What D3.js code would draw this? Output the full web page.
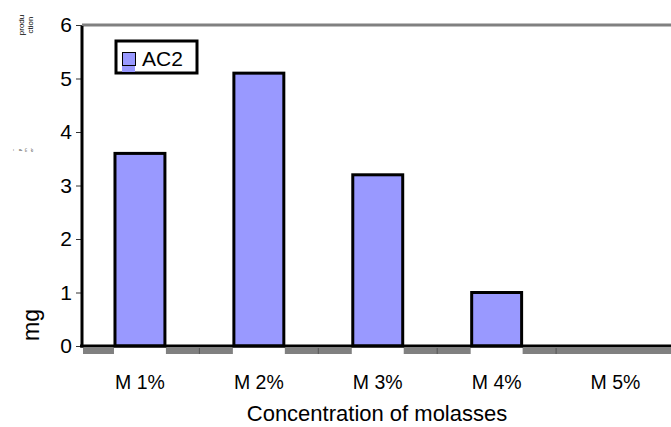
<!DOCTYPE html>
<html>
<head>
<meta charset="utf-8">
<script src="https://cdn.jsdelivr.net/npm/d3@7"></script>
<style>
  body { margin: 0; background: #fff; }
  text { font-family: "Liberation Sans", Arial, sans-serif; fill: #000; }
</style>
</head>
<body>
<svg id="chart" width="671" height="427"></svg>
<script>
// data
const categories = ['M 1%', 'M 2%', 'M 3%', 'M 4%', 'M 5%'];
const ac2 = [3.6, 5.1, 3.2, 1.0, 0];
const yTicks = [0, 1, 2, 3, 4, 5, 6];
const seriesName = 'AC2';

const BAR_FILL = '#9999ff';
const svg = d3.select('#chart');

const x = d3.scaleBand().domain(categories).range([80.5, 675]);
const y = d3.scaleLinear().domain([0, 6]).range([346, 25]);
const barW = x.bandwidth() * 0.42;

// top frame line (gray)
svg.append('line')
    .attr('x1', 82).attr('x2', 671)
    .attr('y1', y(6)).attr('y2', y(6))
    .attr('stroke', '#808080').attr('stroke-width', 3);

// gray floor strip below the axis, broken under bars
svg.append('rect')
    .attr('x', 83).attr('y', 348)
    .attr('width', 671 - 83).attr('height', 6)
    .attr('fill', '#808080');
svg.selectAll('rect.gap')
    .data(categories.filter((c, i) => ac2[i] > 0))
    .join('rect')
    .attr('class', 'gap')
    .attr('x', d => x(d) + x.bandwidth() / 2 - barW / 2 - 1)
    .attr('y', 348)
    .attr('width', barW + 2)
    .attr('height', 6)
    .attr('fill', '#fff');
svg.selectAll('line.sep')
    .data(categories.slice(1))
    .join('line')
    .attr('class', 'sep')
    .attr('x1', d => x(d)).attr('x2', d => x(d))
    .attr('y1', 348).attr('y2', 354)
    .attr('stroke', '#555').attr('stroke-width', 1);

// bars
svg.selectAll('rect.bar')
    .data(categories)
    .join('rect')
    .attr('class', 'bar')
    .attr('x', d => x(d) + x.bandwidth() / 2 - barW / 2)
    .attr('y', (d, i) => y(ac2[i]))
    .attr('width', barW)
    .attr('height', (d, i) => y(0) - y(ac2[i]))
    .attr('fill', BAR_FILL)
    .attr('stroke', '#000')
    .attr('stroke-width', 3)
    .style('display', (d, i) => ac2[i] > 0 ? null : 'none');

// y axis
const yAxis = svg.append('g')
    .attr('transform', 'translate(82,0)')
    .call(d3.axisLeft(y).tickValues(yTicks).tickSize(6).tickPadding(4).tickFormat(d3.format('d')));
yAxis.select('.domain').remove();
yAxis.selectAll('.tick line').attr('stroke', '#333').attr('stroke-width', 1);
yAxis.selectAll('.tick text')
    .style('font-family', '"Liberation Sans", Arial, sans-serif')
    .style('font-size', '21px')
    .attr('fill', '#000');

svg.append('line')
    .attr('x1', 82).attr('x2', 82)
    .attr('y1', y(6) + 1).attr('y2', 347.5)
    .attr('stroke', '#000').attr('stroke-width', 3);

// x axis baseline
svg.append('line')
    .attr('x1', 80).attr('x2', 671)
    .attr('y1', y(0)).attr('y2', y(0))
    .attr('stroke', '#000').attr('stroke-width', 3);

// x labels
svg.selectAll('text.xl')
    .data(categories)
    .join('text')
    .attr('class', 'xl')
    .attr('x', d => x(d) + x.bandwidth() / 2)
    .attr('y', 389)
    .attr('text-anchor', 'middle')
    .style('font-size', '19.5px')
    .text(d => d);

svg.append('text')
    .attr('x', 377).attr('y', 421)
    .attr('text-anchor', 'middle')
    .style('font-size', '22px')
    .text('Concentration of molasses');

// y title and the tiny clipped fragments
svg.append('text')
    .attr('transform', 'translate(39,325) rotate(-90)')
    .attr('text-anchor', 'middle')
    .style('font-size', '23px')
    .text('mg');
svg.append('text')
    .attr('transform', 'translate(24,25) rotate(-90)')
    .attr('text-anchor', 'middle')
    .style('font-size', '8px').attr('fill', '#444')
    .text('produ');
svg.append('text')
    .attr('transform', 'translate(33,25) rotate(-90)')
    .attr('text-anchor', 'middle')
    .style('font-size', '8px').attr('fill', '#444')
    .text('ction');
svg.append('text')
    .attr('transform', 'translate(15,150) rotate(-90)')
    .attr('text-anchor', 'middle')
    .style('font-size', '4px').attr('fill', '#666')
    .text('~');
svg.append('text')
    .attr('transform', 'translate(21,150) rotate(-90)')
    .attr('text-anchor', 'middle')
    .style('font-size', '4px').attr('fill', '#666')
    .text('y');
svg.append('text')
    .attr('transform', 'translate(27,150) rotate(-90)')
    .attr('text-anchor', 'middle')
    .style('font-size', '4px').attr('fill', '#666')
    .text('m');
svg.append('text')
    .attr('transform', 'translate(33,150) rotate(-90)')
    .attr('text-anchor', 'middle')
    .style('font-size', '4px').attr('fill', '#666')
    .text('er');

// legend
const legend = svg.append('g');
legend.append('rect')
    .attr('x', 116).attr('y', 41).attr('width', 81).attr('height', 32)
    .attr('fill', '#fff').attr('stroke', '#000').attr('stroke-width', 3);
legend.append('rect')
    .attr('x', 122).attr('y', 53).attr('width', 13).attr('height', 19)
    .attr('fill', BAR_FILL);
legend.append('rect')
    .attr('x', 122.5).attr('y', 52.5).attr('width', 13).attr('height', 13)
    .attr('fill', 'none').attr('stroke', '#000').attr('stroke-width', 1);
legend.append('text')
    .attr('x', 142).attr('y', 66)
    .style('font-size', '21px')
    .text(seriesName);
</script>
</body>
</html>
